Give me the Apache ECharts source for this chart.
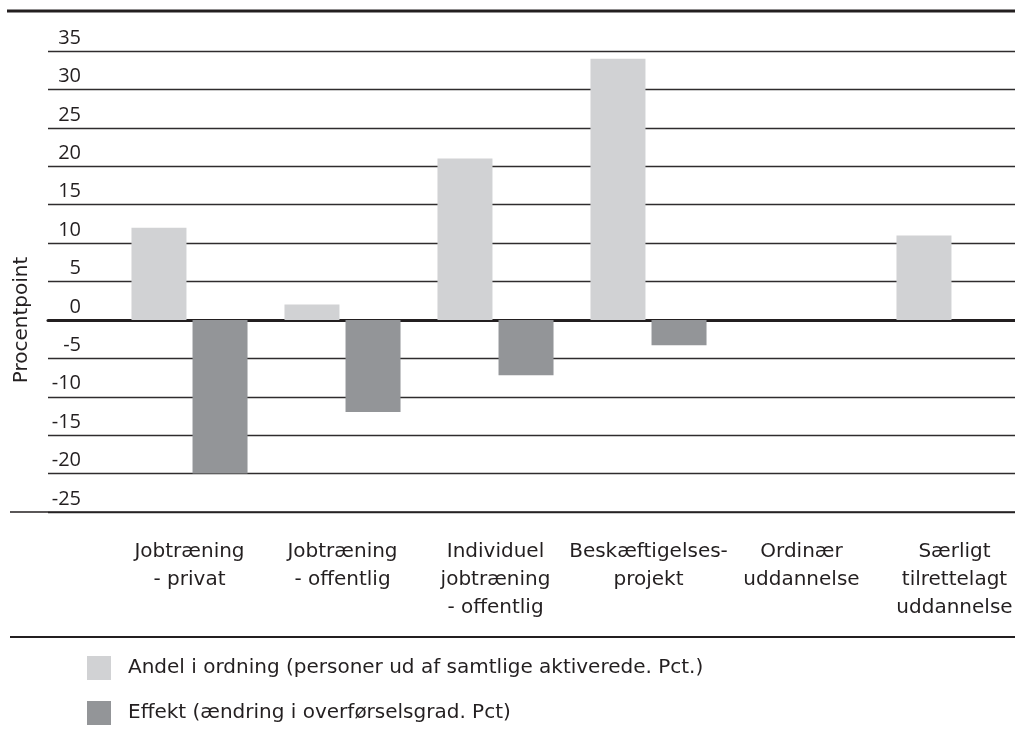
<!DOCTYPE html>
<html>
<head>
<meta charset="utf-8">
<script src="https://cdn.jsdelivr.net/npm/echarts@6/dist/echarts.min.js"></script>
<style>
  html, body { margin: 0; padding: 0; background: #ffffff; }
  #chart { width: 1015px; height: 736px; }
</style>
</head>
<body>
<div id="chart"></div>
<script>
// Aktiveringsordninger: andel og effekt
const categories = [
  'Jobtræning\n- privat',
  'Jobtræning\n- offentlig',
  'Individuel\njobtræning\n- offentlig',
  'Beskæftigelses-\nprojekt',
  'Ordinær\nuddannelse',
  'Særligt\ntilrettelagt\nuddannelse'
];
const andelName = 'Andel i ordning (personer ud af samtlige aktiverede. Pct.)';
const effektName = 'Effekt (ændring i overførselsgrad. Pct)';
const andel = [12, 2, 21, 34, null, 11];
const effekt = [-20, -12, -7.2, -3.3, null, null];
const yMin = -25, yMax = 35, yStep = 5;
const yTitle = 'Procentpoint';

const FONT = 'DejaVu Sans';
const NUM_FONT = 'Open Sans';
const TXT = '#231f20';
const LIGHT = '#d1d2d4';
const DARK = '#939598';

const chart = echarts.init(document.getElementById('chart'), null, { renderer: 'canvas' });

const plotTop = 51, plotBottom = 224;

const option = {
  animation: false,
  backgroundColor: '#ffffff',
  textStyle: { fontFamily: FONT, color: TXT },
  grid: [
    // gridlines, value labels and zero line
    { left: 48, right: 0, top: plotTop, bottom: plotBottom, containLabel: false, outerBoundsMode: 'none' },
    // bars
    { left: 113, right: -16, top: plotTop, bottom: plotBottom, containLabel: false, outerBoundsMode: 'none' }
  ],
  xAxis: [
    {
      gridIndex: 0, type: 'value', min: 0, max: 1,
      axisLine: { show: true, onZero: true, lineStyle: { color: TXT, width: 3 } },
      axisTick: { show: false }, axisLabel: { show: false }, splitLine: { show: false }
    },
    {
      gridIndex: 1, type: 'category', data: categories,
      axisLine: { show: false }, axisTick: { show: false }, splitLine: { show: false },
      axisLabel: {
        interval: 0, margin: 26, fontFamily: FONT, fontSize: 20, color: TXT,
        lineHeight: 28, align: 'center', verticalAlign: 'top'
      }
    }
  ],
  yAxis: [
    {
      gridIndex: 0, type: 'value', min: yMin, max: yMax, interval: yStep,
      axisLine: { show: false }, axisTick: { show: false },
      splitLine: { show: true, lineStyle: { color: '#2f2c2d', width: 1.3 } },
      axisLabel: {
        inside: true, margin: 33, align: 'right', verticalAlign: 'bottom',
        padding: [0, 0, 3, 0],
        fontFamily: NUM_FONT, fontSize: 20, color: TXT
      }
    },
    {
      gridIndex: 1, type: 'value', min: yMin, max: yMax, interval: yStep, show: false
    }
  ],
  legend: {
    orient: 'vertical', left: 87, top: 656, padding: 0,
    itemWidth: 24, itemHeight: 24, itemGap: 21,
    icon: 'rect',
    textStyle: { fontFamily: FONT, fontSize: 20, color: TXT, padding: [2, 0, 0, 12] },
    data: [andelName, effektName]
  },
  series: [
    {
      name: andelName, type: 'bar', xAxisIndex: 1, yAxisIndex: 1,
      data: andel, barWidth: 55, barGap: '11%',
      itemStyle: { color: LIGHT }
    },
    {
      name: effektName, type: 'bar', xAxisIndex: 1, yAxisIndex: 1,
      data: effekt, barWidth: 55, barGap: '11%',
      itemStyle: { color: DARK }
    }
  ]
};

chart.setOption(option);

// frame rules and rotated axis title, placed from the axis scale
const yZero = chart.convertToPixel({ yAxisIndex: 0 }, 0);
const yBottom = chart.convertToPixel({ yAxisIndex: 0 }, yMin);
chart.setOption({
  graphic: [
    { type: 'line', shape: { x1: 7, y1: 11, x2: 1015, y2: 11 }, style: { stroke: TXT, lineWidth: 3 }, silent: true },
    { type: 'line', shape: { x1: 10, y1: yBottom, x2: 1015, y2: yBottom }, style: { stroke: TXT, lineWidth: 1.5 }, silent: true },
    { type: 'line', shape: { x1: 10, y1: 637, x2: 1015, y2: 637 }, style: { stroke: TXT, lineWidth: 2 }, silent: true },
    {
      type: 'text', x: 22, y: yZero, rotation: Math.PI / 2, silent: true,
      style: { text: yTitle, fontFamily: FONT, fontSize: 20, fill: TXT, align: 'center', verticalAlign: 'middle' }
    }
  ]
});
</script>
</body>
</html>
